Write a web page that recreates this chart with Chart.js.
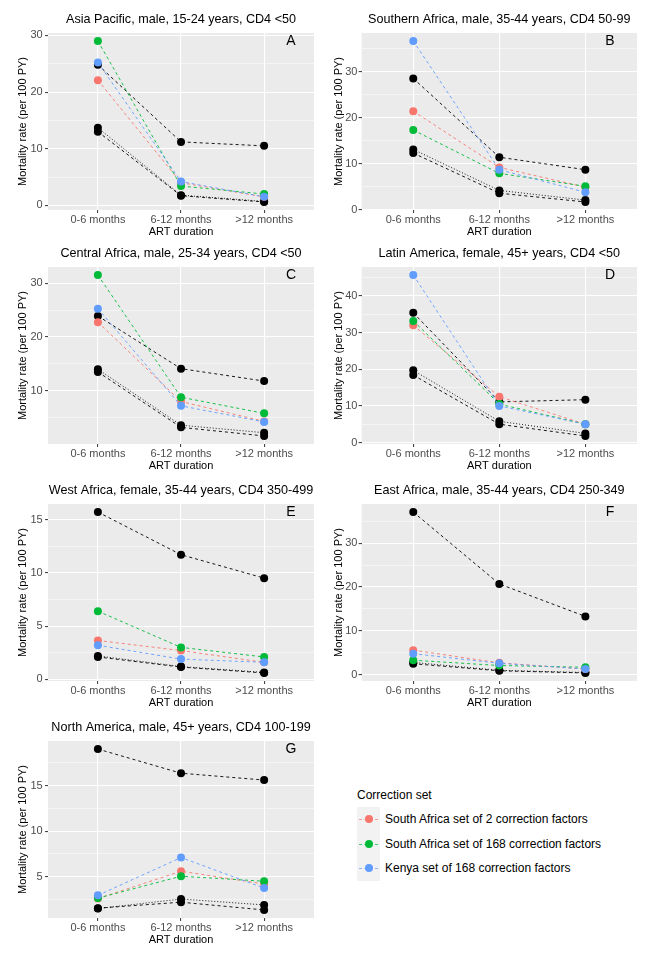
<!DOCTYPE html>
<html>
<head>
<meta charset="utf-8">
<script src="https://cdn.jsdelivr.net/npm/chart.js@4.4.1/dist/chart.umd.min.js"></script>
<style>
  body { margin: 0; background: #fff; font-family: "Liberation Sans", Arial, sans-serif; }
  #page { position: relative; width: 645px; height: 956px; overflow: hidden; }
  canvas { position: absolute; }
  #legend { position: absolute; left: 357px; top: 788px; font-size: 12px; color: #000; }
  #legend .head { height: 14px; line-height: 14px; margin-bottom: 5px; }
  #legend .row { display: flex; align-items: center; height: 24.5px; }
  #legend .key { position: relative; width: 23px; height: 24.5px; background: #F2F2F2; margin-right: 5px; }
  #legend .key .ln { position: absolute; left: 2px; right: 2px; top: 12px; border-top: 1px dashed; opacity: .7; }
  #legend .key .dot { position: absolute; left: 8px; top: 8px; width: 8px; height: 8px; border-radius: 50%; }
</style>
</head>
<body>
<div id="page">
  <canvas id="p0"></canvas><canvas id="p1"></canvas>
  <canvas id="p2"></canvas><canvas id="p3"></canvas>
  <canvas id="p4"></canvas><canvas id="p5"></canvas>
  <canvas id="p6"></canvas>
  <div id="legend"></div>
</div>
<script>
// categories
const durations = ['0-6 months', '6-12 months', '>12 months'];

const panelTitles = [
  'Asia Pacific, male, 15-24 years, CD4 <50',
  'Southern Africa, male, 35-44 years, CD4 50-99',
  'Central Africa, male, 25-34 years, CD4 <50',
  'Latin America, female, 45+ years, CD4 <50',
  'West Africa, female, 35-44 years, CD4 350-499',
  'East Africa, male, 35-44 years, CD4 250-349',
  'North America, male, 45+ years, CD4 100-199'
];
const panelLetters = ['A', 'B', 'C', 'D', 'E', 'F', 'G'];

// correction sets (one row per panel, values per duration)
const saTwo = [
  [22.1, 4.0, 1.5], [21.4, 9.2, 4.9], [22.75, 8.0, 4.3], [32.0, 12.5, 5.0],
  [3.65, 2.7, 1.6], [5.6, 2.7, 1.3], [2.6, 5.6, 4.2]
];
const saFull = [
  [29.0, 3.4, 2.0], [17.3, 7.9, 5.1], [31.5, 8.8, 5.8], [33.2, 10.5, 5.0],
  [6.4, 3.0, 2.1], [3.3, 2.1, 1.7], [2.65, 5.05, 4.5]
];
const kenya = [
  [25.2, 4.2, 1.5], [36.6, 8.7, 3.8], [25.25, 7.2, 4.2], [45.7, 10.0, 5.0],
  [3.2, 1.9, 1.6], [4.8, 2.6, 1.3], [2.95, 7.1, 3.75]
];
// black reference lines
const blackUpper = [
  [24.8, 11.2, 10.5], [28.5, 11.4, 8.7], [23.9, 14.1, 11.8], [35.4, 11.1, 11.7],
  [15.7, 11.7, 9.5], [37.1, 20.7, 13.3], [19.0, 16.35, 15.6]
];
const blackLowDash = [
  [13.0, 1.7, 0.6], [12.3, 3.6, 1.7], [13.5, 3.2, 1.6], [18.4, 5.0, 1.8],
  [2.1, 1.15, 0.6], [2.5, 0.9, 0.4], [1.55, 2.2, 1.35]
];
const blackLowDot = [
  [13.7, 1.8, 0.7], [13.1, 4.2, 2.1], [14.0, 3.6, 2.2], [19.7, 5.8, 2.5],
  [2.2, 1.2, 0.65], [2.8, 1.0, 0.5], [1.5, 2.55, 1.9]
];
const majorSteps = [10, 10, 10, 10, 5, 10, 5];

const legendLabels = [
  'South Africa set of 2 correction factors',
  'South Africa set of 168 correction factors',
  'Kenya set of 168 correction factors'
];

const RED = '#F8766D', GREEN = '#00BA38', BLUE = '#619CFF';
const FONT = '"Liberation Sans", Arial, sans-serif';

// canvas boxes: left col / right col, 4 rows
const rowTops = [0, 234, 471, 708];
const colBox = [
  { left: 0, width: 318, padL: 17, padR: 3, tickPad: 2.4, letterDx: 23 },
  { left: 318, width: 327, padL: 15, padR: 8, tickPad: 1.2, letterDx: 27 }
];

const panelBg = {
  id: 'panelBg',
  beforeDraw(chart) {
    const { ctx, chartArea: a } = chart;
    ctx.save();
    ctx.fillStyle = '#EBEBEB';
    ctx.fillRect(a.left, a.top, a.width, a.height);
    ctx.restore();
  }
};

const panelLetter = {
  id: 'panelLetter',
  afterDraw(chart, args, opts) {
    const { ctx, chartArea: a } = chart;
    ctx.save();
    ctx.fillStyle = '#000';
    ctx.font = '14px ' + FONT;
    ctx.textAlign = 'center';
    ctx.textBaseline = 'middle';
    ctx.fillText(opts.text, a.right - opts.dx, a.top + 8.5);
    ctx.restore();
  }
};

function series(values, color, dash, width) {
  return {
    data: values.map((v, k) => ({ x: k, y: v })),
    borderColor: color,
    backgroundColor: color,
    borderWidth: width,
    borderDash: dash,
    pointRadius: 4,
    pointBorderWidth: 0,
    pointHoverRadius: 4,
    tension: 0
  };
}

function isMajor(v, step) {
  return Math.abs(v / step - Math.round(v / step)) < 1e-6;
}

function makePanel(i) {
  const col = colBox[i % 2];
  const canvas = document.getElementById('p' + i);
  canvas.width = col.width;
  canvas.height = 237;
  canvas.style.left = col.left + 'px';
  canvas.style.top = rowTops[Math.floor(i / 2)] + 'px';

  const all = [saTwo[i], saFull[i], kenya[i], blackUpper[i], blackLowDash[i], blackLowDot[i]].flat();
  const lo = Math.min(...all), hi = Math.max(...all);
  const pad = (hi - lo) * 0.05;
  const step = majorSteps[i];
  const minor = step / 2;

  new Chart(canvas, {
    type: 'line',
    data: {
      datasets: [
        series(kenya[i], BLUE, [3, 3], 0.9),
        series(saFull[i], GREEN, [3, 3], 0.9),
        series(saTwo[i], RED, [3, 3], 0.9),
        series(blackUpper[i], '#000', [3, 3], 0.9),
        series(blackLowDash[i], '#000', [3, 3], 0.9),
        series(blackLowDot[i], '#000', [1, 2], 0.9)
      ]
    },
    options: {
      responsive: false,
      animation: false,
      events: [],
      layout: { padding: { left: col.padL, right: col.padR, top: 5, bottom: 0 } },
      plugins: {
        legend: { display: false },
        tooltip: { enabled: false },
        title: {
          display: true, text: panelTitles[i], fullSize: false, color: '#000',
          font: { family: FONT, size: 12.6, weight: 'normal', lineHeight: 1.2 },
          padding: { top: 7.4, bottom: 5.5 }
        },
        panelLetter: { text: panelLetters[i], dx: col.letterDx }
      },
      scales: {
        x: {
          type: 'linear', min: -0.6, max: 2.6,
          afterBuildTicks: s => { s.ticks = durations.map((d, k) => ({ value: k })); },
          ticks: {
            callback: v => durations[v], color: '#4D4D4D', autoSkip: false, maxRotation: 0,
            font: { family: FONT, size: 11, lineHeight: 1.0 }, padding: 1
          },
          grid: { color: '#FFFFFF', lineWidth: 1.1, tickLength: 3, tickColor: '#444' },
          border: { display: false },
          title: {
            display: true, text: 'ART duration', color: '#000',
            font: { family: FONT, size: 11, lineHeight: 1.0 }, padding: { top: 0, bottom: 0 }
          }
        },
        y: {
          type: 'linear', min: lo - pad, max: hi + pad,
          afterBuildTicks: s => {
            const t = [];
            for (let v = Math.ceil(s.min / minor) * minor; v <= s.max + 1e-9; v += minor) t.push({ value: v });
            s.ticks = t;
          },
          ticks: {
            callback: v => isMajor(v, step) ? String(Math.round(v)) : '',
            color: '#4D4D4D', autoSkip: false,
            font: { family: FONT, size: 11, lineHeight: 1.0 }, padding: col.tickPad
          },
          grid: {
            color: '#FFFFFF',
            lineWidth: c => isMajor(c.tick.value, step) ? 1.1 : 0.5,
            tickLength: 3,
            tickColor: c => isMajor(c.tick.value, step) ? '#444' : 'rgba(0,0,0,0)'
          },
          border: { display: false },
          title: {
            display: true, text: 'Mortality rate (per 100 PY)', color: '#000',
            font: { family: FONT, size: 11, lineHeight: 1.0 }, padding: { top: 0, bottom: 0 }
          }
        }
      }
    },
    plugins: [panelBg, panelLetter]
  });
}

for (let i = 0; i < panelTitles.length; i++) makePanel(i);

// legend for the correction sets
const legend = document.getElementById('legend');
const legendColors = [RED, GREEN, BLUE];
let html = '<div class="head">Correction set</div>';
legendLabels.forEach((lab, k) => {
  html += '<div class="row"><div class="key"><div class="ln" style="border-color:' + legendColors[k] +
    '"></div><div class="dot" style="background:' + legendColors[k] + '"></div></div><span>' + lab + '</span></div>';
});
legend.innerHTML = html;
</script>
</body>
</html>
